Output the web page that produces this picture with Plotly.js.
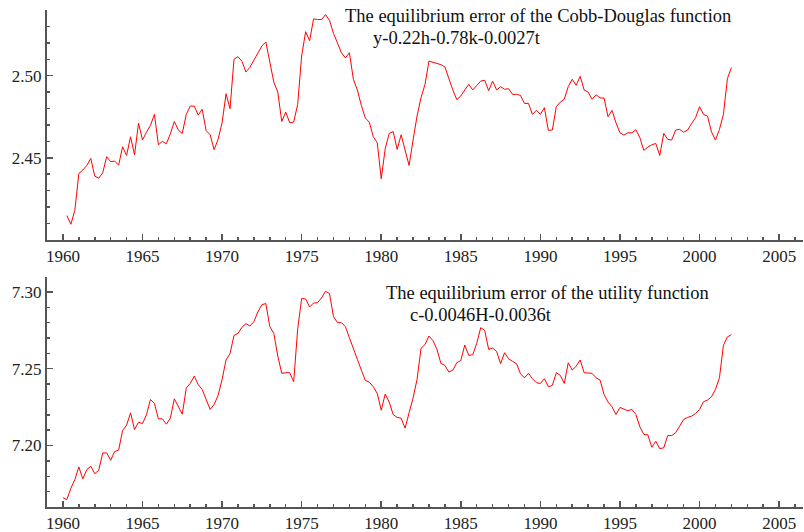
<!DOCTYPE html>
<html>
<head>
<meta charset="utf-8">
<script src="https://cdn.plot.ly/plotly-3.0.1.min.js"></script>
<style>html,body{margin:0;padding:0;background:#fff;}#chart{width:804px;height:532px;}</style>
</head>
<body>
<div id="chart"></div>
<script>
// Cobb-Douglas equilibrium error, quarterly from 1960 Q2 to 2002 Q1
const cdStart = 1960.25;
const cdValues = [
 2.4148,2.4095,2.4180,2.4404,2.4425,2.4453,2.4496,2.4388,2.4376,2.4408,
 2.4506,2.4476,2.4480,2.4455,2.4567,2.4514,2.4628,2.4518,2.4711,2.4608,
 2.4656,2.4697,2.4764,2.4579,2.4600,2.4585,2.4646,2.4721,2.4669,2.4648,
 2.4764,2.4815,2.4815,2.4760,2.4795,2.4665,2.4640,2.4549,2.4612,2.4713,
 2.4890,2.4799,2.5100,2.5116,2.5087,2.5022,2.5051,2.5096,2.5136,2.5181,
 2.5205,2.5079,2.4961,2.4900,2.4721,2.4778,2.4713,2.4717,2.4825,2.5120,
 2.5268,2.5213,2.5346,2.5342,2.5342,2.5372,2.5337,2.5258,2.5201,2.5140,
 2.5108,2.5140,2.4978,2.4913,2.4819,2.4742,2.4717,2.4628,2.4591,2.4372,
 2.4555,2.4648,2.4660,2.4551,2.4640,2.4547,2.4453,2.4608,2.4754,2.4866,
 2.4947,2.5089,2.5083,2.5075,2.5067,2.5053,2.4978,2.4913,2.4854,2.4876,
 2.4913,2.4947,2.4913,2.4941,2.4967,2.4972,2.4909,2.4967,2.4913,2.4933,
 2.4917,2.4921,2.4886,2.4886,2.4880,2.4831,2.4831,2.4764,2.4789,2.4764,
 2.4805,2.4667,2.4669,2.4811,2.4839,2.4856,2.4933,2.4978,2.4941,2.4996,
 2.4913,2.4900,2.4856,2.4884,2.4864,2.4864,2.4750,2.4789,2.4713,2.4652,
 2.4638,2.4652,2.4652,2.4671,2.4622,2.4545,2.4565,2.4579,2.4587,2.4514,
 2.4648,2.4612,2.4608,2.4669,2.4673,2.4656,2.4669,2.4709,2.4744,2.4811,
 2.4764,2.4754,2.4658,2.4608,2.4673,2.4764,2.4982,2.5049
];

// Utility-function equilibrium error, quarterly from 1960 Q1 to 2002 Q1
const utStart = 1960.0;
const utValues = [
 7.1661,7.1648,7.1722,7.1778,7.1861,7.1783,7.1843,7.1865,7.1817,7.1839,
 7.1952,7.1952,7.1904,7.1961,7.1970,7.2098,7.2133,7.2213,7.2104,7.2152,
 7.2143,7.2200,7.2300,7.2274,7.2174,7.2174,7.2139,7.2178,7.2304,7.2252,
 7.2204,7.2374,7.2404,7.2452,7.2396,7.2365,7.2300,7.2235,7.2267,7.2326,
 7.2430,7.2557,7.2598,7.2717,7.2730,7.2770,7.2793,7.2778,7.2807,7.2870,
 7.2917,7.2924,7.2774,7.2730,7.2583,7.2470,7.2474,7.2474,7.2415,7.2757,
 7.2957,7.2954,7.2902,7.2928,7.2930,7.2961,7.3004,7.2989,7.2839,7.2800,
 7.2800,7.2774,7.2702,7.2626,7.2561,7.2491,7.2424,7.2413,7.2383,7.2339,
 7.2230,7.2335,7.2283,7.2202,7.2183,7.2178,7.2113,7.2213,7.2309,7.2430,
 7.2633,7.2657,7.2713,7.2683,7.2626,7.2535,7.2522,7.2478,7.2491,7.2539,
 7.2554,7.2654,7.2587,7.2591,7.2665,7.2767,7.2750,7.2626,7.2635,7.2613,
 7.2533,7.2604,7.2565,7.2548,7.2533,7.2467,7.2441,7.2470,7.2435,7.2409,
 7.2404,7.2435,7.2383,7.2391,7.2474,7.2457,7.2404,7.2539,7.2491,7.2517,
 7.2557,7.2474,7.2470,7.2470,7.2441,7.2426,7.2333,7.2283,7.2252,7.2202,
 7.2248,7.2239,7.2226,7.2235,7.2202,7.2122,7.2072,7.2070,7.1989,7.2028,
 7.1980,7.1985,7.2065,7.2065,7.2083,7.2126,7.2170,7.2183,7.2191,7.2209,
 7.2235,7.2285,7.2296,7.2317,7.2365,7.2441,7.2652,7.2707,7.2722
];

const xTickVals = [1960,1965,1970,1975,1980,1985,1990,1995,2000,2005];
const xTickText = ["1960","1965","1970","1975","1980","1985","1990","1995","2000","2005"];
const cdTickVals = [2.45,2.50];
const cdTickText = ["2.45","2.50"];
const utTickVals = [7.20,7.25,7.30];
const utTickText = ["7.20","7.25","7.30"];

const cdTitle1 = "The equilibrium error of the Cobb-Douglas function";
const cdTitle2 = "y-0.22h-0.78k-0.0027t";
const utTitle1 = "The equilibrium error of the utility function";
const utTitle2 = "c-0.0046H-0.0036t";

const quarters = (start, n) => Array.from({length:n}, (_, i) => start + 0.25*i);

const axisColor = '#555';
const fam = '"Liberation Serif", "Times New Roman", serif';
const fnt = {family:fam, size:17, color:'#222'};
const annFnt = {family:fam, size:18.5, color:'#111'};

function xa(anchor){
  return {anchor:anchor, range:[1959,2006.5], showgrid:false, zeroline:false,
    showline:true, linecolor:axisColor, linewidth:2, mirror:false,
    tickmode:'array', tickvals:xTickVals, ticktext:xTickText,
    ticks:'inside', ticklen:6, tickwidth:1.5, tickcolor:axisColor,
    minor:{ticks:'inside', dtick:1, tick0:1960, ticklen:3, tickwidth:1.5, tickcolor:axisColor, showgrid:false},
    tickfont:fnt, fixedrange:true};
}
function ya(anchor, range, tv, tt, domain){
  return {anchor:anchor, domain:domain, range:range, showgrid:false, zeroline:false,
    showline:true, linecolor:axisColor, linewidth:2,
    tickmode:'array', tickvals:tv, ticktext:tt,
    ticks:'inside', ticklen:6, tickwidth:1.5, tickcolor:axisColor,
    minor:{ticks:'inside', dtick:0.01, tick0:range[0], ticklen:3, tickwidth:1.5, tickcolor:axisColor, showgrid:false},
    tickfont:fnt, fixedrange:true};
}

const traces = [
  {x:quarters(cdStart, cdValues.length), y:cdValues, xaxis:'x2', yaxis:'y2', type:'scatter', mode:'lines',
   line:{color:'#ff0000', width:1}, hoverinfo:'skip'},
  {x:quarters(utStart, utValues.length), y:utValues, xaxis:'x', yaxis:'y', type:'scatter', mode:'lines',
   line:{color:'#ff0000', width:1}, hoverinfo:'skip'}
];

const ann = (t, x, y, ya) => ({text:t, xref:'paper', yref:'paper', x:x, y:y, xanchor:'left', yanchor:ya,
  showarrow:false, font:annFnt, borderpad:0});

const layout = {
  width:804, height:532, paper_bgcolor:'#fff', plot_bgcolor:'#fff', showlegend:false,
  margin:{l:47, r:1, t:10, b:25},
  font:fnt,
  xaxis:xa('y'),
  yaxis:ya('x', [7.16,7.31], utTickVals, utTickText, [0,0.4637]),
  xaxis2:xa('y2'),
  yaxis2:ya('x2', [2.40,2.54], cdTickVals, cdTickText, [0.5375,1]),
  annotations:[
    ann(cdTitle1, 0.3929, 0.9650, 'bottom'),
    ann(cdTitle2, 0.4299, 0.9650, 'top'),
    ann(utTitle1, 0.4471, 0.4088, 'bottom'),
    ann(utTitle2, 0.4788, 0.4088, 'top')
  ]
};

Plotly.newPlot('chart', traces, layout, {displayModeBar:false, staticPlot:true});
</script>
</body>
</html>
